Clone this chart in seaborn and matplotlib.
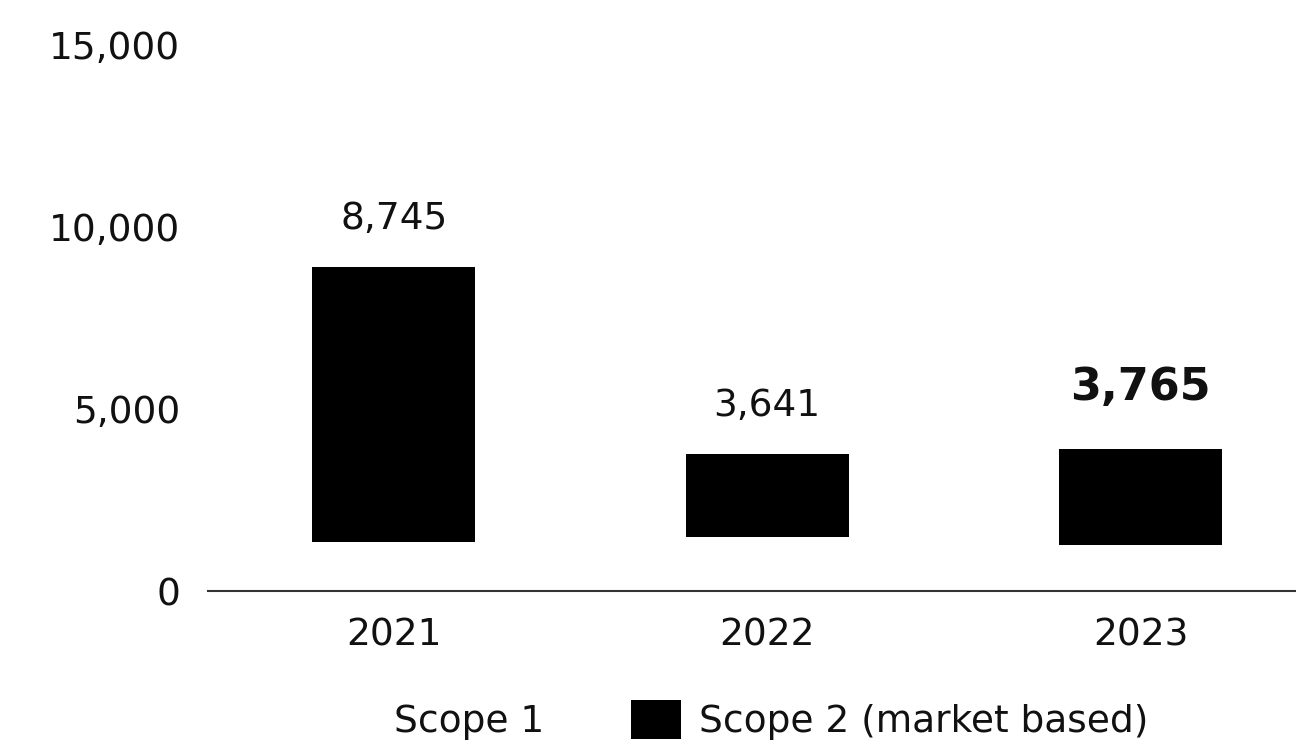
import pandas as pd
import matplotlib.pyplot as plt
import matplotlib.patches as mpatches
from matplotlib.ticker import FuncFormatter
import seaborn as sns

# Emissions by year (tCO2e)
years = ["2021", "2022", "2023"]
scope1 = [1350, 1480, 1260]
scope2_market = [7550, 2280, 2640]
total_labels = ["8,745", "3,641", "3,765"]
y_ticks = [0, 5000, 10000, 15000]


def make_chart():
    df = pd.DataFrame({"Year": years, "Scope 1": scope1, "Scope 2": scope2_market})
    df["Total"] = df["Scope 1"] + df["Scope 2"]

    sns.set_style("white")
    plt.rcParams["font.family"] = ["DejaVu Sans"]

    fig = plt.figure(figsize=(12.96, 7.55), dpi=100)
    ax = fig.add_axes([0.1605, 0.2172, 0.8395, 0.7232])

    # stacked look: full bar in black, scope 1 painted white on top
    sns.barplot(data=df, x="Year", y="Total", color="black", width=0.436,
                saturation=1, linewidth=0, ax=ax)
    sns.barplot(data=df, x="Year", y="Scope 1", color="white", width=0.436,
                saturation=1, linewidth=0, ax=ax)

    ax.set_xlim(-0.497, 2.416)
    ax.set_ylim(0, 15000)
    ax.set_yticks(y_ticks)
    ax.yaxis.set_major_formatter(FuncFormatter(lambda v, p: f"{int(v):,}"))
    ax.set_xlabel("")
    ax.set_ylabel("")

    for s in ["top", "right", "left"]:
        ax.spines[s].set_visible(False)
    ax.spines["bottom"].set_color("#333333")
    ax.spines["bottom"].set_linewidth(1.5)
    ax.tick_params(axis="y", length=0, pad=20, labelsize=27, labelcolor="#111111")
    ax.tick_params(axis="x", length=0, pad=19, labelsize=27, labelcolor="#111111")

    for i, lab in enumerate(total_labels):
        top = df["Total"][i]
        if i == 2:
            ax.text(i, top + 1700, lab, ha="center", va="center", fontsize=32,
                    fontweight="bold", color="#111111")
        else:
            ax.text(i, top + 1330, lab, ha="center", va="center", fontsize=27,
                    color="#111111")

    handles = [mpatches.Patch(facecolor="white", edgecolor="none", label="Scope 1"),
               mpatches.Patch(facecolor="black", edgecolor="none", label="Scope 2 (market based)")]
    fig.legend(handles=handles, loc="center left", bbox_to_anchor=(0.252, 0.046), ncol=2,
               frameon=False, fontsize=27, handlelength=1.33, handleheight=1.2,
               handletextpad=0.48, columnspacing=2.3, borderpad=0, borderaxespad=0,
               labelcolor="#111111")

    fig.savefig("out.png", dpi=100)


if __name__ == "__main__":
    make_chart()
